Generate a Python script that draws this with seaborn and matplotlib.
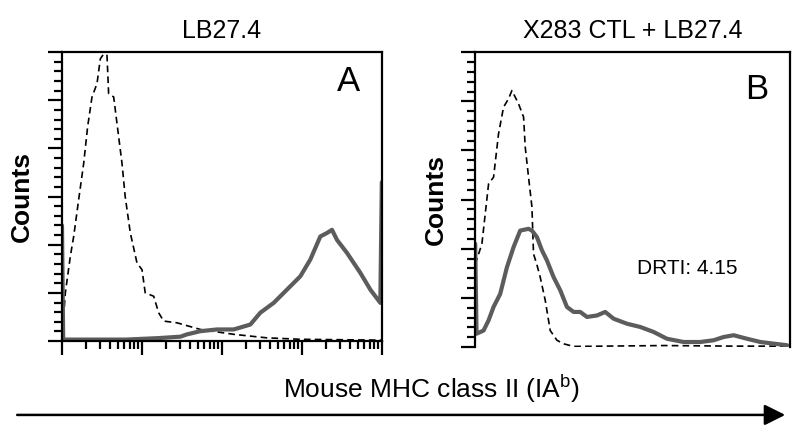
import matplotlib
matplotlib.use("Agg")
import matplotlib.pyplot as plt
import matplotlib.ticker as mticker
import numpy as np
import seaborn as sns

sns.set_style("ticks", {"axes.edgecolor": "black", "text.color": "black",
                        "axes.labelcolor": "black", "xtick.color": "black",
                        "ytick.color": "black"})
plt.rcParams["font.family"] = ["Liberation Sans", "DejaVu Sans"]
plt.rcParams["mathtext.fontset"] = "custom"
plt.rcParams["mathtext.rm"] = "Liberation Sans"

# decade position (log10 of fluorescence) and counts
pos_a_iso = [0.0, 0.042, 0.104, 0.146, 0.208, 0.271, 0.32, 0.375, 0.4375, 0.479, 0.521,
             0.5625, 0.583, 0.646, 0.6875, 0.75, 0.79, 0.854, 0.9375, 1.0, 1.04, 1.146,
             1.208, 1.27, 1.4375, 1.73, 2.15, 2.56, 2.98, 4.0]
cnt_a_iso = [0.6, 16.7, 29.3, 36.2, 48.9, 61.5, 74.1, 84.5, 89.1, 97.7, 99.4,
             98.9, 85.6, 84.5, 75.3, 61.5, 50, 37.4, 27, 24.7, 16.7, 15.5,
             9.8, 6.9, 6.3, 4.0, 2.3, 1.1, 0.6, 0.3]

pos_a_mhc = [0.0, 0.015, 0.8, 1.2, 1.48, 1.5625, 1.729, 1.9375, 2.146, 2.354, 2.479,
             2.646, 2.8125, 2.979, 3.104, 3.229, 3.3125, 3.375, 3.4375, 3.5625, 3.729,
             3.854, 3.979, 3.998]
cnt_a_mhc = [40, 0.5, 0.5, 1.0, 1.5, 2.3, 3.4, 4.0, 4.0, 5.7, 9.8,
             13.2, 17.8, 22.4, 28.2, 36.2, 37.4, 38.5, 35, 30.5, 23.6,
             17.8, 13.2, 55]

pos_b_iso = [0.0, 0.085, 0.17, 0.233, 0.296, 0.36, 0.423, 0.466, 0.55, 0.614, 0.635,
             0.677, 0.72, 0.74, 0.78, 0.825, 0.889, 0.952, 1.037, 1.12, 1.25, 2.4,
             3.28, 4.0]
cnt_b_iso = [28, 35, 55.4, 57.6, 72.3, 81.4, 84.2, 87, 82.5, 78, 67.8,
             57.6, 47.5, 31.6, 28.2, 23.7, 15.8, 5.6, 2.3, 1.1, 0.2, 0.5,
             0.3, 0.3]

pos_b_mhc = [0.0, 0.017, 0.106, 0.169, 0.233, 0.317, 0.402, 0.487, 0.571, 0.677, 0.72,
             0.783, 0.847, 0.91, 0.995, 1.08, 1.164, 1.249, 1.333, 1.418, 1.545,
             1.65, 1.757, 1.926, 2.095, 2.265, 2.434, 2.646, 2.857, 3.026, 3.153,
             3.28, 3.45, 3.619, 3.958]
cnt_b_mhc = [35, 4.5, 5.6, 9, 13.6, 18, 27, 33.9, 39.5, 40.1, 39.5,
             37.3, 32.8, 29.4, 23.7, 19.2, 13.6, 11.9, 11.9, 10.2, 10.7,
             11.9, 9.6, 7.9, 6.8, 5.1, 2.8, 1.7, 1.7, 2.3, 3.4,
             4.0, 2.8, 1.7, 0.6]

titles = ["LB27.4", "X283 CTL + LB27.4"]
letters = ["A", "B"]
letter_y = [0.90, 0.875]

gray = "#5c5c5c"
fig = plt.figure(figsize=(8, 4.26), dpi=100)
ax_a = fig.add_axes([0.0775, 0.1995, 0.4, 0.678])
ax_b = fig.add_axes([0.594, 0.1854, 0.394, 0.692])

panels = [(ax_a, pos_a_iso, cnt_a_iso, pos_a_mhc, cnt_a_mhc),
          (ax_b, pos_b_iso, cnt_b_iso, pos_b_mhc, cnt_b_mhc)]

for i, (ax, p_iso, c_iso, p_mhc, c_mhc) in enumerate(panels):
    sns.lineplot(x=10 ** np.array(p_iso), y=c_iso, ax=ax, color="black", lw=1.2,
                 linestyle=(0, (4, 2.5)), estimator=None, sort=False)
    sns.lineplot(x=10 ** np.array(p_mhc), y=c_mhc, ax=ax, color=gray, lw=3.0,
                 estimator=None, sort=False)
    ax.set_xscale("log")
    ax.set_xlim(1, 1e4)
    ax.set_ylim(0, 100)
    ax.yaxis.set_major_locator(mticker.MultipleLocator(100 / 6))
    ax.yaxis.set_minor_locator(mticker.MultipleLocator(100 / 30))
    ax.tick_params(axis="both", which="major", direction="out", length=10, width=1.6,
                   labelleft=False, labelbottom=False)
    ax.tick_params(axis="both", which="minor", direction="out", length=6, width=1.6)
    for s in ax.spines.values():
        s.set_linewidth(1.6)
    ax.set_xlabel("")
    ax.set_ylabel("Counts", fontsize=19, fontweight="bold", labelpad=10)
    ax.set_title(titles[i], fontsize=18, pad=10)
    ax.text(0.93, letter_y[i], letters[i], transform=ax.transAxes, fontsize=25,
            ha="right", va="center")

ax_b.spines["bottom"].set_visible(False)
ax_b.tick_params(axis="x", which="both", bottom=False)
ax_b.text(0.673, 0.268, "DRTI: 4.15", transform=ax_b.transAxes, fontsize=15,
          ha="center", va="center")

fig.text(0.54, 0.088, r"Mouse MHC class II (IA$^{\mathrm{b}}$)", fontsize=19,
         ha="center", va="center")
fig.add_artist(matplotlib.patches.FancyArrowPatch(
    (0.018, 0.026), (0.985, 0.026), transform=fig.transFigure,
    arrowstyle="-|>,head_length=0.9,head_width=0.45", mutation_scale=14,
    color="black", lw=1.8))

fig.savefig("out.png", dpi=100)
